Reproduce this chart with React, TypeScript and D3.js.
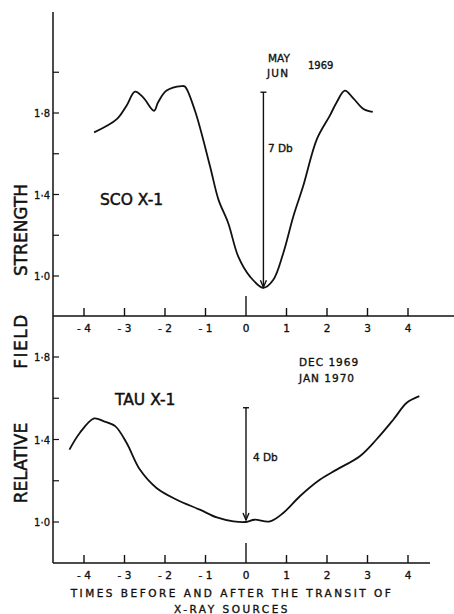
import React from 'react';
import * as d3 from 'd3';

// SCO X-1 (May/Jun 1969)
const scoT = [-3.75, -3.19, -2.95, -2.74, -2.54, -2.27, -2.17, -1.96, -1.59, -1.51, -1.26, -0.89, -0.68, -0.44, -0.19, 0.1, 0.43, 0.67, 0.92, 1.17, 1.41, 1.75, 2.07, 2.24, 2.44, 2.65, 2.9, 3.13];
const scoV = [1.705, 1.77, 1.836, 1.905, 1.877, 1.811, 1.853, 1.91, 1.932, 1.93, 1.811, 1.54, 1.375, 1.26, 1.095, 0.997, 0.942, 0.98, 1.112, 1.293, 1.44, 1.672, 1.787, 1.853, 1.91, 1.872, 1.82, 1.806];

// TAU X-1 (Dec 1969 / Jan 1970)
const tauT = [-4.36, -4.1, -3.75, -3.52, -3.23, -2.95, -2.62, -2.21, -1.71, -1.14, -0.72, -0.31, 0.0, 0.21, 0.59, 0.92, 1.33, 1.83, 2.24, 2.81, 3.22, 3.64, 3.97, 4.28];
const tauV = [1.351, 1.433, 1.502, 1.489, 1.465, 1.384, 1.254, 1.165, 1.108, 1.06, 1.022, 1.003, 1.0, 1.011, 1.003, 1.044, 1.125, 1.206, 1.254, 1.319, 1.4, 1.497, 1.578, 1.61];

const xTicks = [-4, -3, -2, -1, 0, 1, 2, 3, 4];
const yTicks = [1.0, 1.2, 1.4, 1.6, 1.8, 2.0];
const topYLabels = ['1·0', '1·4', '1·8'];
const botYLabels = ['1·0', '1·4', '1·8'];

const font = 'DejaVu Sans, sans-serif';
const ink = '#111';

const App = () => {
  const w = 454;
  const h = 614;
  const axisX = 53;

  const x = d3.scaleLinear().domain([-4, 4]).range([84, 408]);
  const yTop = d3.scaleLinear().domain([1.0, 1.8]).range([276, 113]);
  const yBot = d3.scaleLinear().domain([1.0, 1.8]).range([522, 357]);

  const topBase = 316;
  const botBase = 563;

  const line = (yS: d3.ScaleLinear<number, number>) =>
    d3.line<[number, number]>()
      .x((d) => x(d[0]))
      .y((d) => yS(d[1]))
      .curve(d3.curveCatmullRom.alpha(0.5));

  const scoPath = line(yTop)(scoT.map((t, i) => [t, scoV[i]]));
  const tauPath = line(yBot)(tauT.map((t, i) => [t, tauV[i]]));

  const xAxis = (base: number, right: number) => (
    <g>
      <line x1={axisX} x2={right} y1={base} y2={base} stroke={ink} strokeWidth={1.5} />
      {xTicks.map((t) => (
        <g key={t}>
          <line x1={x(t)} x2={x(t)} y1={base} y2={base - (t === 0 ? 20 : 8)} stroke={ink} strokeWidth={1.4} />
          <text x={x(t)} y={base + 16} textAnchor="middle" fontSize={10.5} fontFamily={font} fill={ink} stroke={ink} strokeWidth={0.35}>
            {t < 0 ? '- ' + Math.abs(t) : String(t)}
          </text>
        </g>
      ))}
    </g>
  );

  const yTicksEl = (yS: d3.ScaleLinear<number, number>, labels: string[], vals: number[]) => (
    <g>
      {vals.map((v) => (
        <line key={v} x1={axisX} x2={axisX + 6} y1={yS(v)} y2={yS(v)} stroke={ink} strokeWidth={1.2} />
      ))}
      {[1.0, 1.4, 1.8].map((v, i) => (
        <text key={v} x={axisX - 3} y={yS(v) + 4} textAnchor="end" fontSize={10} fontFamily={font} fill={ink} stroke={ink} strokeWidth={0.3}>
          {labels[i]}
        </text>
      ))}
    </g>
  );

  const arrow = (px: number, y1: number, y2: number) => (
    <g stroke={ink} strokeWidth={1.4} fill="none">
      <line x1={px} x2={px} y1={y1} y2={y2} />
      <line x1={px - 3} x2={px + 3} y1={y1} y2={y1} />
      <path d={`M${px - 3},${y2 - 7} L${px},${y2} L${px + 3},${y2 - 7}`} />
    </g>
  );

  return (
    <svg width={w} height={h} style={{ position: 'absolute', left: 0, top: 0, background: '#fff' }}>
      <rect width={w} height={h} fill="#fff" />
      {/* vertical axis */}
      <line x1={axisX} x2={axisX} y1={12} y2={botBase} stroke={ink} strokeWidth={1.5} />

      {yTicksEl(yTop, topYLabels, yTicks)}
      {yTicksEl(yBot, botYLabels, yTicks.slice(0, 5))}

      {xAxis(topBase, 454)}
      {xAxis(botBase, 430)}

      <path d={scoPath ?? ''} fill="none" stroke={ink} strokeWidth={1.8} strokeLinejoin="round" />
      <path d={tauPath ?? ''} fill="none" stroke={ink} strokeWidth={1.8} strokeLinejoin="round" />

      {arrow(x(0.43), yTop(1.902), yTop(0.945))}
      {arrow(x(0), yBot(1.554), yBot(1.01))}

      <g fontFamily={font} fill={ink} stroke={ink} strokeWidth={0.35}>
        <text x={268} y={152} fontSize={10.5}>7 Db</text>
        <text x={253} y={461} fontSize={10.5}>4 Db</text>
        <text x={268} y={62} fontSize={10.5}>MAY</text>
        <text x={267} y={77} fontSize={10.5} letterSpacing={1.2}>JUN</text>
        <text x={308} y={69} fontSize={10}>1969</text>
        <text x={299} y={366} fontSize={10.5} letterSpacing={1}>DEC 1969</text>
        <text x={299} y={382} fontSize={10.5} letterSpacing={1}>JAN 1970</text>
        <text x={100} y={205} fontSize={15.5} strokeWidth={0.5}>SCO X-1</text>
        <text x={115} y={405} fontSize={15.5} strokeWidth={0.5}>TAU X-1</text>

        <text transform="translate(27,230) rotate(-90)" textAnchor="middle" fontSize={17} strokeWidth={0.5}>STRENGTH</text>
        <text transform="translate(27,341) rotate(-90)" textAnchor="middle" fontSize={17} letterSpacing={1.5} strokeWidth={0.5}>FIELD</text>
        <text transform="translate(27,463) rotate(-90)" textAnchor="middle" fontSize={17} strokeWidth={0.5}>RELATIVE</text>

        <text x={232} y={597} textAnchor="middle" fontSize={10.5} letterSpacing={2.5}>TIMES BEFORE  AND AFTER THE TRANSIT OF</text>
        <text x={232} y={613} textAnchor="middle" fontSize={10.5} letterSpacing={2.5}>X-RAY SOURCES</text>
      </g>
    </svg>
  );
};

export default App;
